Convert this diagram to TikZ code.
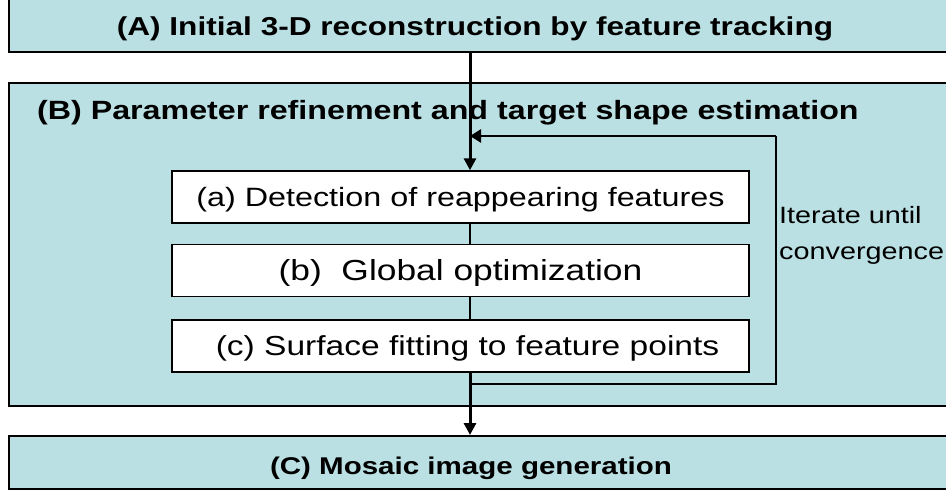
\documentclass[tikz,border=0pt]{standalone}
\usepackage{fontspec}
\setmainfont{Liberation Sans}[FakeStretch=1.22]
\usepackage{tikz}
\usetikzlibrary{arrows.meta,positioning,calc}
\definecolor{panelcyan}{RGB}{186,224,227}

\begin{document}
\begin{tikzpicture}[x=1pt, y=-1pt,
  panel/.style={rectangle, draw=black, line width=2pt, fill=panelcyan,
    inner sep=0pt, minimum width=943pt},
  stage/.style={rectangle, draw=black, line width=1.5pt, fill=white,
    minimum width=577pt, minimum height=52pt, inner sep=0pt,
    text height=19pt, text depth=0pt,
    font=\fontsize{26.5}{32}\selectfont},
  headline/.style={font=\bfseries\fontsize{26.4}{32}\selectfont, inner sep=0pt,
    text height=19pt, text depth=0pt},
  flow/.style={-{Triangle[length=12pt,width=12pt]}, line width=3pt},
  link/.style={line width=2pt},
  loopline/.style={line width=1.5pt}
]
\useasboundingbox (0,0) rectangle (946,493);

% panels
\node[panel, minimum height=55pt] (A) at (480.5,24.5) {};
\node[panel, minimum height=323pt] (B) at (480.5,244.5) {};
\node[panel, minimum height=53pt] (C) at (480.5,462.5) {};

\node[headline, font=\bfseries\fontsize{25.9}{32}\selectfont] (Atitle) at (475,26) {(A) Initial 3-D reconstruction by feature tracking};
\node[headline, anchor=west] (Btitle) at (37,110) {(B) Parameter refinement and target shape estimation};
\node[headline, font=\bfseries\fontsize{24.2}{30}\selectfont] (Ctitle) at (471,465) {(C) Mosaic image generation};

% steps inside (B)
\node[stage] (detect) at (460.5,197) {(a) Detection of reappearing features};
\node[stage, below=20pt of detect, font=\fontsize{29}{34}\selectfont] (optim) {(b)\ \ Global optimization};
\node[stage, below=22pt of optim, font=\fontsize{27.5}{33}\selectfont] (fitting) {\hspace*{14pt}(c) Surface fitting to feature points};

\node[anchor=west, align=left, inner sep=0pt,
  font=\fontsize{23.6}{36}\selectfont] (iter) at (779,235) {Iterate until\\convergence};

% connectors
\coordinate (spine) at (470,0);
\coordinate (loopbot) at (776,384);
\coordinate (looptop) at (776,136);

\draw[flow] (A.south -| spine) -- (detect.north -| spine);
\draw[link] (detect.south -| spine) -- (optim.north -| spine);
\draw[link] (optim.south -| spine) -- (fitting.north -| spine);
\draw[flow] (fitting.south -| spine) -- (C.north -| spine);

\draw[loopline] (spine |- loopbot) -- (loopbot) -- (looptop);
\draw[-{Triangle[length=11pt,width=13pt]}, line width=2.5pt] (looptop) -- (spine |- looptop);
\end{tikzpicture}
\end{document}
